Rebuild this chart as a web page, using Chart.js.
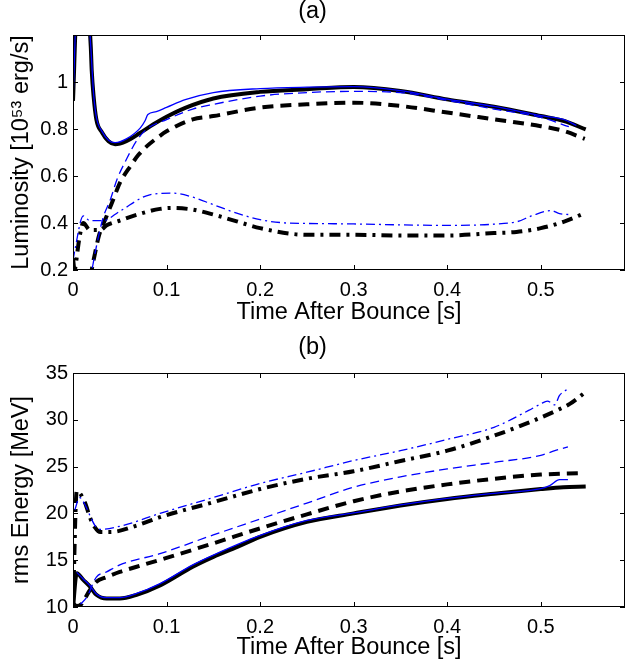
<!DOCTYPE html>
<html>
<head>
<meta charset="utf-8">
<script src="https://cdn.jsdelivr.net/npm/chart.js@4.4.0/dist/chart.umd.min.js"></script>
<style>
body { margin: 0; background: #fff; }
canvas { display: block; }
</style>
</head>
<body>
<canvas id="lum" width="626" height="331"></canvas>
<canvas id="erms" width="626" height="332"></canvas>
<script>
// ---- panel (a): luminosity ----
const tLumKSolid = [0, 0.004, 0.016, 0.019, 0.02, 0.022, 0.025, 0.031, 0.038, 0.045, 0.057, 0.072, 0.086, 0.1, 0.12, 0.15, 0.2, 0.25, 0.3, 0.35, 0.4, 0.45, 0.5, 0.525, 0.548];
const lumKSolid = [0.92, 1.3, 1.3, 1.15, 1.05, 0.94, 0.84, 0.785, 0.748, 0.735, 0.748, 0.784, 0.82, 0.852, 0.89, 0.93, 0.958, 0.969, 0.979, 0.962, 0.926, 0.895, 0.855, 0.834, 0.798];

const tLumBSolid = [0, 0.004, 0.016, 0.019, 0.022, 0.025, 0.031, 0.038, 0.045, 0.057, 0.072, 0.077, 0.08, 0.089, 0.1, 0.12, 0.15, 0.2, 0.25, 0.3, 0.35, 0.4, 0.45, 0.5, 0.525, 0.538];
const lumBSolid = [0.92, 1.3, 1.3, 1.15, 0.95, 0.85, 0.79, 0.752, 0.742, 0.758, 0.805, 0.835, 0.862, 0.874, 0.892, 0.925, 0.955, 0.972, 0.978, 0.98, 0.963, 0.927, 0.896, 0.857, 0.84, 0.815];

const tLumKDash = [0, 0.004, 0.017, 0.02, 0.024, 0.028, 0.035, 0.043, 0.05, 0.061, 0.07, 0.079, 0.09, 0.1, 0.128, 0.15, 0.2, 0.25, 0.3, 0.35, 0.4, 0.45, 0.5, 0.525, 0.547];
const lumKDash = [0.25, 0.12, 0.12, 0.2, 0.28, 0.35, 0.42, 0.5, 0.57, 0.64, 0.69, 0.727, 0.762, 0.79, 0.841, 0.855, 0.891, 0.905, 0.912, 0.898, 0.87, 0.841, 0.812, 0.791, 0.758];

const tLumBDash = [0.018, 0.025, 0.032, 0.04, 0.047, 0.057, 0.068, 0.079, 0.1, 0.128, 0.15, 0.2, 0.25, 0.3, 0.35, 0.4, 0.45, 0.5, 0.53];
const lumBDash = [0.15, 0.3, 0.42, 0.5, 0.585, 0.67, 0.75, 0.8, 0.84, 0.885, 0.905, 0.94, 0.955, 0.96, 0.955, 0.922, 0.885, 0.85, 0.81];

const tLumKDot = [0, 0.002, 0.007, 0.011, 0.018, 0.029, 0.036, 0.05, 0.068, 0.093, 0.107, 0.128, 0.15, 0.175, 0.2, 0.25, 0.3, 0.35, 0.4, 0.45, 0.474, 0.5, 0.525, 0.547];
const lumKDot = [0.17, 0.2, 0.34, 0.4, 0.37, 0.37, 0.39, 0.41, 0.435, 0.46, 0.464, 0.457, 0.436, 0.407, 0.378, 0.35, 0.35, 0.347, 0.347, 0.357, 0.362, 0.378, 0.406, 0.442];

const tLumBDot = [0, 0.002, 0.011, 0.018, 0.032, 0.05, 0.082, 0.107, 0.128, 0.15, 0.175, 0.2, 0.228, 0.25, 0.3, 0.35, 0.4, 0.45, 0.475, 0.49, 0.511, 0.52, 0.53];
const lumBDot = [0.24, 0.285, 0.43, 0.41, 0.41, 0.45, 0.52, 0.527, 0.51, 0.478, 0.442, 0.414, 0.40, 0.398, 0.396, 0.392, 0.39, 0.395, 0.406, 0.43, 0.453, 0.44, 0.436];

// ---- panel (b): rms energy ----
const tErmsKSolid = [0, 0.004, 0.011, 0.018, 0.025, 0.036, 0.05, 0.068, 0.093, 0.128, 0.15, 0.175, 0.2, 0.25, 0.3, 0.35, 0.4, 0.45, 0.5, 0.524, 0.548];
const ermsKSolid = [10, 13.6, 12.9, 12.2, 11.3, 10.9, 10.9, 11.3, 12.3, 14.3, 15.35, 16.4, 17.5, 19.1, 20.0, 20.85, 21.55, 22.1, 22.6, 22.8, 22.87];

const tErmsBSolid = [0.004, 0.011, 0.018, 0.025, 0.036, 0.05, 0.068, 0.093, 0.128, 0.15, 0.2, 0.25, 0.3, 0.35, 0.4, 0.45, 0.5, 0.51, 0.52, 0.529];
const ermsBSolid = [13.7, 13.0, 12.3, 11.4, 11.0, 11.0, 11.45, 12.5, 14.5, 15.55, 17.65, 19.25, 20.05, 20.9, 21.6, 22.15, 22.65, 23.0, 23.6, 23.6];

const tErmsKDash = [0, 0.004, 0.009, 0.013, 0.018, 0.025, 0.036, 0.05, 0.068, 0.1, 0.15, 0.2, 0.25, 0.3, 0.35, 0.4, 0.45, 0.5, 0.542];
const ermsKDash = [10.4, 10.1, 10.3, 10.96, 11.8, 12.7, 13.2, 13.75, 14.3, 15.25, 16.8, 18.4, 19.9, 21.3, 22.35, 23.1, 23.7, 24.15, 24.3];

const tErmsBDash = [0.008, 0.015, 0.025, 0.036, 0.05, 0.093, 0.15, 0.2, 0.25, 0.3, 0.35, 0.4, 0.45, 0.5, 0.515, 0.529];
const ermsBDash = [10.3, 11.1, 13.2, 13.75, 14.5, 15.7, 17.7, 19.4, 21.1, 22.8, 23.9, 24.75, 25.45, 26.2, 26.7, 27.1];

const tErmsKDot = [0, 0.004, 0.013, 0.018, 0.0235, 0.029, 0.04, 0.068, 0.093, 0.15, 0.2, 0.25, 0.3, 0.35, 0.4, 0.45, 0.487, 0.517, 0.531, 0.547];
const ermsKDot = [10, 22.4, 21.1, 19.6, 18.5, 18.0, 18.0, 18.7, 19.6, 21.2, 22.6, 23.7, 24.5, 25.6, 26.7, 28.3, 29.7, 31.0, 31.7, 32.9];

const tErmsBDot = [0.002, 0.007, 0.013, 0.018, 0.0235, 0.029, 0.053, 0.093, 0.15, 0.2, 0.25, 0.3, 0.35, 0.4, 0.45, 0.487, 0.5, 0.507, 0.515, 0.52, 0.529];
const ermsBDot = [20.4, 21.7, 20.9, 19.8, 18.7, 18.3, 18.7, 20.0, 21.7, 23.2, 24.4, 25.65, 26.7, 27.9, 29.2, 31.0, 31.7, 32.0, 31.6, 32.6, 33.3];

const FONT = "'Liberation Sans', Arial, Helvetica, sans-serif";
const BLUE = '#0000ff';
const TITLE_SIZE = 23.5;
const TICK_SIZE = 20;

function series(label, t, v, color, width, dash) {
    return {
        label: label,
        data: t.map((x, i) => ({ x: x, y: v[i] })),
        borderColor: color,
        borderWidth: width,
        borderDash: dash,
        borderCapStyle: 'butt',
        pointRadius: 0,
        fill: false,
        clip: 0,
        cubicInterpolationMode: 'monotone'
    };
}

// box + inward ticks on all four sides, like the matlab axes
const boxTicks = {
    id: 'boxTicks',
    afterDraw(chart) {
        const { ctx, chartArea: a, scales } = chart;
        ctx.save();
        ctx.strokeStyle = '#000';
        ctx.lineWidth = 1;
        ctx.strokeRect(a.left + 0.5, a.top + 0.5, a.right - a.left - 1, a.bottom - a.top - 1);
        ctx.beginPath();
        scales.x.ticks.forEach(t => {
            const x = Math.round(scales.x.getPixelForValue(t.value)) + 0.5;
            ctx.moveTo(x, a.bottom); ctx.lineTo(x, a.bottom - 5);
            ctx.moveTo(x, a.top); ctx.lineTo(x, a.top + 5);
        });
        scales.y.ticks.forEach(t => {
            const y = Math.round(scales.y.getPixelForValue(t.value)) + 0.5;
            ctx.moveTo(a.left, y); ctx.lineTo(a.left + 5, y);
            ctx.moveTo(a.right, y); ctx.lineTo(a.right - 5, y);
        });
        ctx.stroke();
        ctx.restore();
    }
};

const fmt = v => String(+v.toFixed(2));

function panel(canvas, title, titlePad, yTitle, yMin, yMax, yStep, xHeight, xTitleBottom, datasets) {
    return new Chart(canvas, {
        type: 'line',
        data: { datasets: datasets },
        options: {
            responsive: false,
            animation: false,
            layout: { padding: { left: 0, right: 1, top: 0, bottom: 0 } },
            plugins: {
                legend: { display: false },
                tooltip: { enabled: false },
                title: {
                    display: true,
                    text: title,
                    color: '#000',
                    font: { family: FONT, size: TITLE_SIZE, weight: 'normal', lineHeight: 1 },
                    padding: titlePad
                }
            },
            scales: {
                x: {
                    type: 'linear',
                    min: 0,
                    max: 0.59,
                    grid: { display: false, drawTicks: false },
                    border: { display: false },
                    ticks: {
                        stepSize: 0.1,
                        includeBounds: false,
                        maxRotation: 0,
                        padding: 8,
                        color: '#000',
                        font: { family: FONT, size: TICK_SIZE },
                        callback: fmt
                    },
                    title: {
                        display: true,
                        text: 'Time After Bounce [s]',
                        color: '#000',
                        font: { family: FONT, size: TITLE_SIZE, lineHeight: 1 },
                        padding: { top: 0, bottom: xTitleBottom }
                    },
                    afterFit(scale) { scale.height = xHeight; }
                },
                y: {
                    min: yMin,
                    max: yMax,
                    grid: { display: false, drawTicks: false },
                    border: { display: false },
                    ticks: {
                        stepSize: yStep,
                        includeBounds: false,
                        padding: 5,
                        color: '#000',
                        font: { family: FONT, size: TICK_SIZE },
                        callback: v => (yMax < 2 && v > 1.1) ? '' : fmt(v)
                    },
                    title: {
                        display: true,
                        text: yTitle,
                        color: '#000',
                        font: { family: FONT, size: TITLE_SIZE, lineHeight: 1 },
                        padding: { top: 10, bottom: 0 }
                    },
                    afterFit(scale) { scale.width = 73; }
                }
            }
        },
        plugins: [boxTicks]
    });
}

panel(document.querySelector('#lum'), '(a)', { top: 0, bottom: 11.5 },
    'Luminosity [10\u2075\u00b3 erg/s]', 0.2, 1.2, 0.2, 61, 7, [
    series('blue solid', tLumBSolid, lumBSolid, BLUE, 1.3, []),
    series('blue dashed', tLumBDash, lumBDash, BLUE, 1.3, [9, 5]),
    series('blue dash-dot', tLumBDot, lumBDot, BLUE, 1.3, [9, 4, 2, 4]),
    series('black solid', tLumKSolid, lumKSolid, '#000', 4, []),
    series('black dashed', tLumKDash, lumKDash, '#000', 4, [11, 7]),
    series('black dash-dot', tLumKDot, lumKDot, '#000', 4, [11, 6, 3, 6])
]);

panel(document.querySelector('#erms'), '(b)', { top: 5.25, bottom: 13.25 },
    'rms Energy [MeV]', 10, 35, 5, 56, 4, [
    series('blue solid', tErmsBSolid, ermsBSolid, BLUE, 1.3, []),
    series('blue dashed', tErmsBDash, ermsBDash, BLUE, 1.3, [9, 5]),
    series('blue dash-dot', tErmsBDot, ermsBDot, BLUE, 1.3, [9, 4, 2, 4]),
    series('black solid', tErmsKSolid, ermsKSolid, '#000', 4, []),
    series('black dashed', tErmsKDash, ermsKDash, '#000', 4, [11, 7]),
    series('black dash-dot', tErmsKDot, ermsKDot, '#000', 4, [11, 6, 3, 6])
]);
</script>
</body>
</html>
